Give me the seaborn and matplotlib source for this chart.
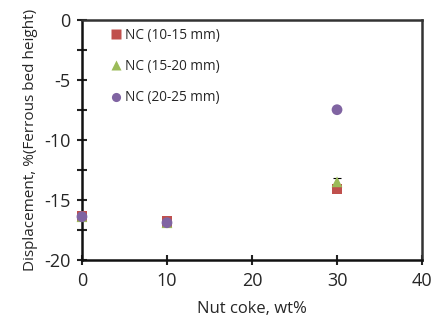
import matplotlib
matplotlib.use("Agg")
import matplotlib.pyplot as plt
import seaborn as sns
import pandas as pd
from matplotlib.ticker import MultipleLocator

sns.set_theme(style="white")
plt.rcParams['font.family'] = ['Open Sans', 'DejaVu Sans']
plt.rcParams['axes.unicode_minus'] = False

nut_coke = [0, 10, 30]
series_names = ["NC (10-15 mm)", "NC (15-20 mm)", "NC (20-25 mm)"]
nc_10_15 = [-16.4, -16.8, -14.1]
nc_15_20 = [-16.4, -16.9, -13.5]
nc_20_25 = [-16.4, -16.9, -7.5]
err_15_20 = [0.0, 0.0, 0.3]

colors = ["#c0504d", "#9bbb59", "#8064a2"]
markers = ["s", "^", "o"]

rows = []
for name, vals in zip(series_names, [nc_10_15, nc_15_20, nc_20_25]):
    for x, y in zip(nut_coke, vals):
        rows.append({"Nut coke": x, "Displacement": y, "Series": name})
df = pd.DataFrame(rows)

fig = plt.figure(figsize=(4.36, 3.31), dpi=100)
ax = fig.add_axes([0.188, 0.2145, 0.78, 0.7265])

ax.errorbar(nut_coke[2:], nc_15_20[2:], yerr=err_15_20[2:], fmt='none',
            ecolor='black', elinewidth=0.8, capsize=3, capthick=0.8, zorder=1)

sns.scatterplot(data=df, x="Nut coke", y="Displacement", hue="Series",
                style="Series", palette=dict(zip(series_names, colors)),
                markers=dict(zip(series_names, markers)), s=60,
                edgecolor="none", ax=ax, zorder=3, clip_on=False)

ax.set_xlim(0, 40)
ax.set_ylim(-20, 0)
ax.xaxis.set_major_locator(MultipleLocator(10))
ax.yaxis.set_major_locator(MultipleLocator(5))
ax.yaxis.set_minor_locator(MultipleLocator(2.5))
ax.tick_params(axis='both', which='major', direction='inout', length=7, width=1.5,
               labelsize=13, color='#222222', left=True, bottom=True, pad=5)
ax.tick_params(axis='y', which='minor', direction='inout', length=7, width=1.5,
               left=True, color='#222222')
for sp in ax.spines.values():
    sp.set_color('#333333')
    sp.set_linewidth(1.8)
    sp.set_visible(True)
ax.spines['left'].set_color('#111111')
ax.spines['bottom'].set_color('#111111')

ax.set_xlabel("Nut coke, wt%", fontsize=12, labelpad=8)
ax.set_ylabel("Displacement, %(Ferrous bed height)", fontsize=11, labelpad=4)

leg = ax.legend(loc='upper left', bbox_to_anchor=(0.035, 1.0), frameon=False,
                fontsize=9.8, handletextpad=-0.3, labelspacing=1.2,
                borderaxespad=0.2, markerscale=0.85)
leg.set_title(None)

fig.savefig("out.png", dpi=100)
